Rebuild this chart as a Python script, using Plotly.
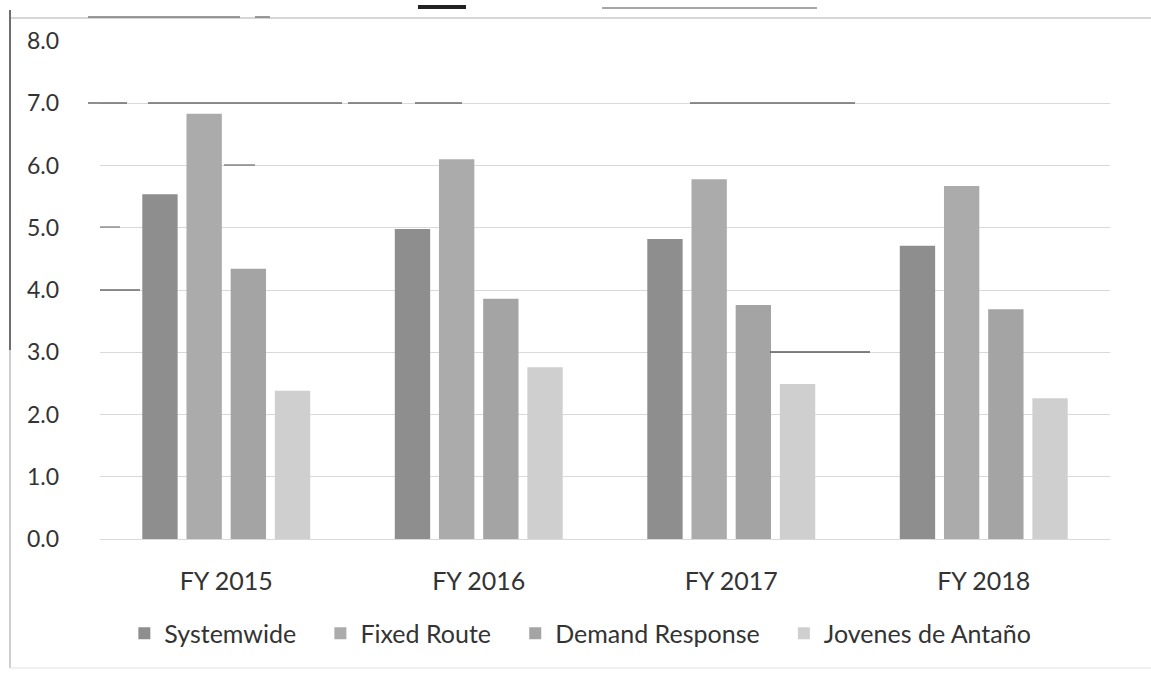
import plotly.graph_objects as go

# Fiscal years on the category axis
years = ["FY 2015", "FY 2016", "FY 2017", "FY 2018"]

# Values per service type
systemwide = [5.54, 4.98, 4.82, 4.71]
fixed_route = [6.83, 6.10, 5.78, 5.67]
demand_response = [4.34, 3.86, 3.76, 3.69]
jovenes = [2.38, 2.76, 2.49, 2.26]

series_names = ["Systemwide", "Fixed Route", "Demand Response", "Jovenes de Antaño"]
series_values = [systemwide, fixed_route, demand_response, jovenes]
series_colors = ["#8e8e8e", "#ababab", "#a4a4a4", "#cfcfcf"]

y_ticks = [0, 1, 2, 3, 4, 5, 6, 7, 8]
y_tick_text = [f"{v:.1f}" for v in y_ticks]

FONT = "Lato, 'Open Sans', sans-serif"
TEXT_COLOR = "#333333"

W, H = 1151, 675
M_L, M_R, M_T, M_B = 100, 41, 41, 136

# non-breaking spaces widen the gap between legend entries
PAD = "\u00a0\u00a0\u00a0"

fig = go.Figure()
for name, vals, col in zip(series_names, series_values, series_colors):
    fig.add_trace(go.Bar(
        x=years, y=vals, name=name + PAD,
        marker=dict(color=col, line=dict(width=0)),
    ))


def px_x(x):
    return (x - M_L) / (W - M_L - M_R)


def px_y(y):
    return (H - M_B - y) / (H - M_T - M_B)


# Page frame and dark rule fragments of the scanned sheet
shapes = []


def seg(x0, y0, x1, y1, color, width):
    shapes.append(dict(type="line", xref="paper", yref="paper",
                       x0=px_x(x0), x1=px_x(x1), y0=px_y(y0), y1=px_y(y1),
                       line=dict(color=color, width=width), layer="above"))


seg(10, 18, 1151, 18, "#c8c8c8", 1.5)
seg(10, 10, 10, 350, "#6e6e6e", 2)
seg(10, 350, 10, 668, "#cfcfcf", 2)
seg(10, 668, 1151, 668, "#e2e2e2", 1)
for a, b in [(88, 240), (255, 270)]:
    seg(a, 17, b, 17, "#7a7a7a", 1.5)
seg(418, 7, 466, 7, "#222222", 4)
seg(602, 8, 817, 8, "#8a8a8a", 1.5)
for a, b in [(88, 127), (148, 342), (348, 402), (415, 462), (690, 855)]:
    seg(a, 103, b, 103, "#6a6a6a", 1.5)
seg(224, 165, 255, 165, "#6a6a6a", 1.2)
seg(100, 227, 120, 227, "#7a7a7a", 1.2)
seg(100, 290, 140, 290, "#6a6a6a", 1.5)
seg(770, 352, 870, 352, "#5a5a5a", 1.5)

fig.update_layout(
    width=W, height=H,
    margin=dict(l=M_L, r=M_R, t=M_T, b=M_B, autoexpand=False),
    paper_bgcolor="white", plot_bgcolor="white",
    barmode="group", bargap=0.3, bargroupgap=0.2,
    font=dict(family=FONT, size=24, color=TEXT_COLOR),
    showlegend=True,
    legend=dict(
        orientation="h", x=0.485, xanchor="center", y=-0.19, yanchor="middle",
        font=dict(family=FONT, size=25, color=TEXT_COLOR),
        itemwidth=30, traceorder="normal",
    ),
    shapes=shapes,
)

fig.update_xaxes(
    showgrid=False, showline=True, linecolor="#d9d9d9", linewidth=1,
    ticks="", ticklabelstandoff=20,
    tickfont=dict(family=FONT, size=25, color=TEXT_COLOR),
)
fig.update_yaxes(
    range=[0, 8], tickvals=y_ticks, ticktext=y_tick_text,
    showgrid=True, gridcolor="#d9d9d9", gridwidth=1,
    zeroline=True, zerolinecolor="#d9d9d9", zerolinewidth=1,
    showline=False, ticks="", ticklabelstandoff=40,
    tickfont=dict(family=FONT, size=23, color=TEXT_COLOR),
)

fig.write_html("out.html")
